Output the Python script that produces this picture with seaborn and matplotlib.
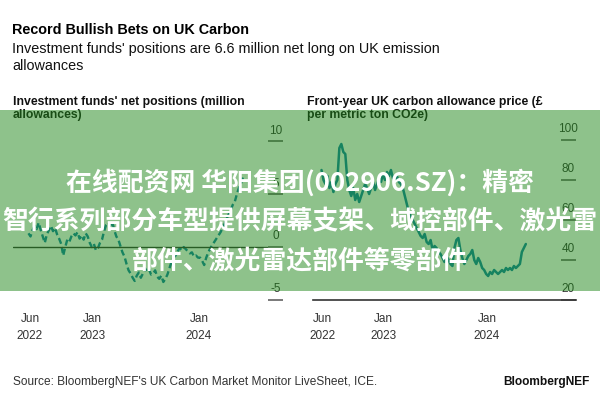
import numpy as np
import pandas as pd
import matplotlib.pyplot as plt
import seaborn as sns
from matplotlib.patches import Rectangle
from matplotlib.transforms import ScaledTranslation

# Investment funds' net positions (million allowances), weekly from late May 2022
net_positions = [
    1.3, 1.0, 1.6, 2.0, 1.7, 2.3, 1.6, 1.0, 0.4, 1.2,
    1.6, 2.0, 1.5, 1.8, 1.2, 0.8, 0.3, -0.8, 0.0, 0.7,
    0.5, 1.0, 1.3, 1.1, 1.4, 0.8, 1.1, 0.7, 1.3, 1.0,
    0.4, 0.0, 0.3, -0.3, -0.1, 0.4, 0.7, 1.5, 2.1, 2.3,
    2.0, 2.4, 1.6, 1.0, 0.7, 0.1, -0.5, -0.9, -1.6, -2.2,
    -2.5, -2.9, -3.2, -2.7, -2.4, -2.9, -2.5, -2.0, -2.3, -2.1,
    -2.6, -2.5, -2.2, -2.8, -3.0, -2.7, -3.3, -3.0, -2.6, -2.0,
    -1.4, -1.0, -0.8, -0.4, -0.1, -0.3, 0.0, -0.2, -0.4, -0.6,
    -0.5, -0.9, -0.8, -1.0, -1.0, -1.3, -1.7, -1.0, -0.5, -0.1,
    0.2, 0.5, 0.8, 1.1, 1.4, 1.8, 2.2, 2.7, 3.1, 3.5,
    4.0, 4.3, 5.0, 5.6, 6.0, 6.6,
]

# Front-year UK carbon allowance price (GBP per t CO2e), weekly from late May 2022
uka_price = [
    85, 80, 78, 82, 76, 79, 74, 78, 80, 96,
    98, 94, 93, 80, 75, 72, 76, 70, 73, 69,
    72, 75, 78, 76, 73, 76, 79, 75, 78, 81,
    79, 83, 80, 84, 82, 85, 81, 79, 82, 79,
    78, 76, 72, 68, 64, 62, 60, 58, 56, 54,
    52, 51, 53, 49, 48, 50, 45, 47, 46, 44,
    43, 41, 39, 42, 40, 38, 37, 46, 50, 51,
    45, 41, 38, 40, 42, 43, 45, 40, 38, 41,
    39, 36, 35, 33, 32, 34, 33, 35, 34, 33,
    34, 35, 34, 36, 35, 36, 35, 37, 36, 37,
    38, 44, 46, 48,
]

pos_dates = pd.date_range("2022-05-27", periods=len(net_positions), freq="7D")
price_dates = pd.date_range("2022-05-27", periods=len(uka_price), freq="7D")

x_ticks = pd.to_datetime(["2022-06-01", "2023-01-01", "2024-01-01"])
x_labels = ["Jun\n2022", "Jan\n2023", "Jan\n2024"]
pos_ticks = [-5, 0, 5, 10]
price_ticks = [20, 40, 60, 80, 100]

overlay_lines = [
    "在线配资网 华阳集团(002906.SZ)：精密",
    "智行系列部分车型提供屏幕支架、域控部件、激光雷",
    "部件、激光雷达部件等零部件",
]

sns.set_style("white")
plt.rcParams['font.family'] = ['Liberation Sans', 'DejaVu Sans']
plt.rcParams['axes.unicode_minus'] = False

line_color = "#0f7fa8"
dark = "#333333"

fig = plt.figure(figsize=(6, 4), dpi=100)
ax1 = fig.add_axes([13 / 600, 0.25, 270 / 600, 0.45])
ax2 = fig.add_axes([313 / 600, 0.25, 263 / 600, 0.45])

pos_df = pd.DataFrame({"date": pos_dates, "net": net_positions})
price_df = pd.DataFrame({"date": price_dates, "price": uka_price})

sns.lineplot(data=pos_df, x="date", y="net", ax=ax1, color=line_color,
             linewidth=1.7, linestyle=(0, (2.6, 1.4)))
sns.lineplot(data=price_df, x="date", y="price", ax=ax2, color=line_color,
             linewidth=1.8)


def style_panel(ax, yticks, ylim, xlim):
    ax.set_xlim(pd.Timestamp(xlim[0]), pd.Timestamp(xlim[1]))
    ax.set_ylim(*ylim)
    ax.set_xlabel("")
    ax.set_ylabel("")
    ax.patch.set_alpha(0)
    for s in ax.spines.values():
        s.set_visible(False)
    ax.set_xticks(x_ticks)
    ax.set_xticklabels(x_labels)
    ax.set_yticks(yticks)
    ax.yaxis.tick_right()
    ax.tick_params(axis='y', direction='in', length=11, width=1.1,
                   color='#555555', pad=-5.5, labelsize=8.5, labelcolor=dark)
    ax.tick_params(axis='x', direction='out', length=3, width=0.8,
                   color='#555555', pad=6, labelsize=8.5, labelcolor=dark)
    offset = ScaledTranslation(0, 3.3 / 72, fig.dpi_scale_trans)
    for lab in ax.get_yticklabels():
        lab.set_ha('center')
        lab.set_va('bottom')
        lab.set_transform(lab.get_transform() + offset)
    for lab in ax.get_xticklabels():
        lab.set_linespacing(1.6)


style_panel(ax1, pos_ticks, (-5, 12), ("2022-04-04", "2024-10-15"))
style_panel(ax2, price_ticks, (20, 110), ("2022-04-27", "2024-11-10"))

ax1.axhline(0, xmax=0.94, color=dark, linewidth=1.0)
ax2.spines['bottom'].set_visible(True)
ax2.spines['bottom'].set_color(dark)
ax2.spines['bottom'].set_linewidth(1.2)

# headline texts
fig.text(12 / 600, 1 - 33.5 / 400, "Record Bullish Bets on UK Carbon",
         fontsize=10.4, fontweight='bold', color='black', va='baseline')
fig.text(12 / 600, 1 - 53 / 400,
         "Investment funds' positions are 6.6 million net long on UK emission",
         fontsize=10.4, color='#111111', va='baseline')
fig.text(12 / 600, 1 - 70 / 400, "allowances",
         fontsize=10.4, color='#111111', va='baseline')

fig.text(13 / 600, 1 - 105 / 400, "Investment funds' net positions (million",
         fontsize=8.8, fontweight='bold', color='#111111', va='baseline')
fig.text(13 / 600, 1 - 118 / 400, "allowances)",
         fontsize=8.8, fontweight='bold', color='#111111', va='baseline')
fig.text(307 / 600, 1 - 105 / 400, "Front-year UK carbon allowance price (£",
         fontsize=8.8, fontweight='bold', color='#111111', va='baseline')
fig.text(307 / 600, 1 - 118 / 400, "per metric ton CO2e)",
         fontsize=8.8, fontweight='bold', color='#111111', va='baseline')

fig.text(13 / 600, 1 - 385 / 400,
         "Source: BloombergNEF's UK Carbon Market Monitor LiveSheet, ICE.",
         fontsize=8.6, color=dark, va='baseline')
fig.text(590 / 600, 1 - 385 / 400, "BloombergNEF", fontsize=8.6,
         fontweight='bold', color='#111111', va='baseline', ha='right')

# green overlay band with text
fig.add_artist(Rectangle((0, 1 - 291 / 400), 1, 181 / 400,
                         transform=fig.transFigure,
                         facecolor=(31 / 255, 135 / 255, 25 / 255),
                         edgecolor='none', alpha=0.5, zorder=5))
for y_px, txt in zip([183, 222, 261], overlay_lines):
    fig.text(0.5, 1 - y_px / 400, txt, ha='center', va='center',
             fontsize=18.6, fontweight='bold', color='white',
             family=['Noto Sans CJK SC', 'DejaVu Sans'], zorder=6)

fig.savefig("out.png", dpi=100)
plt.close(fig)
